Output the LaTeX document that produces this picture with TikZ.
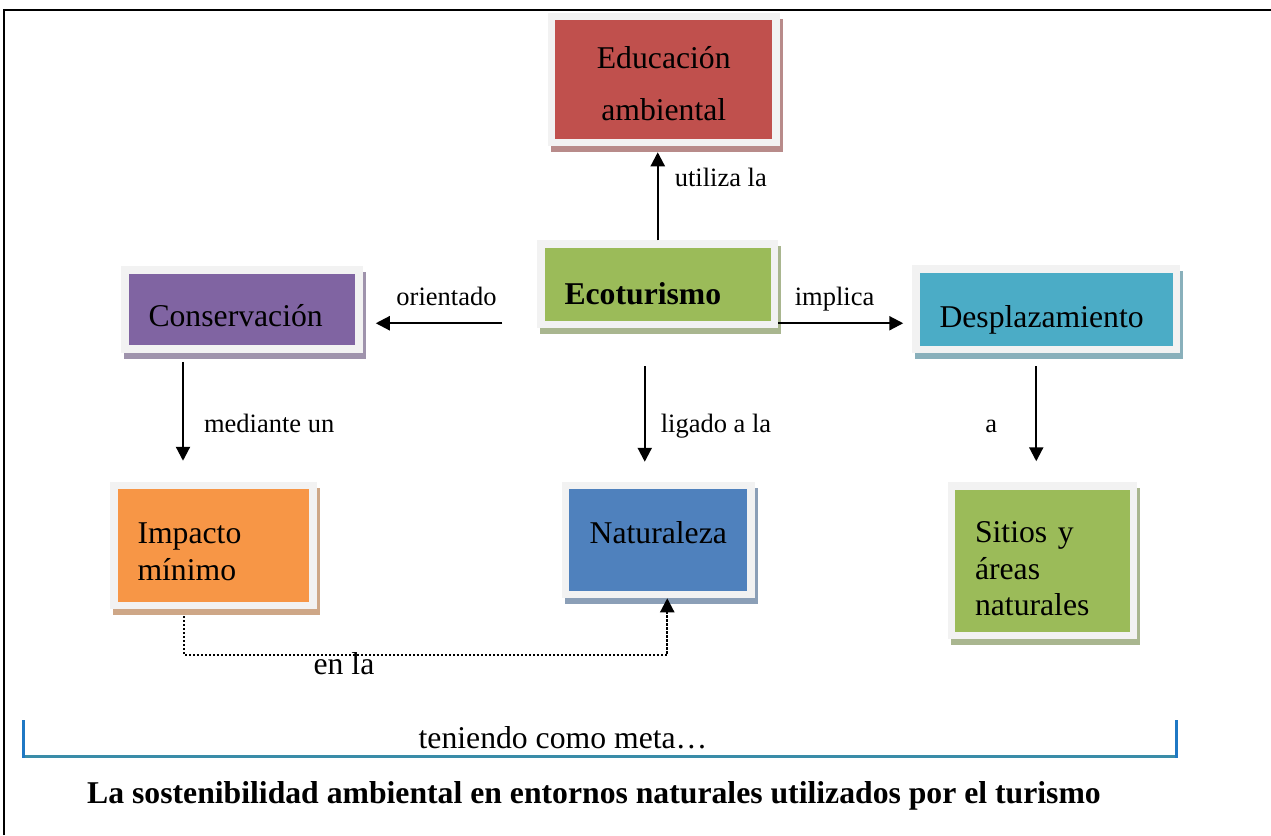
\documentclass[tikz,border=0pt]{standalone}
\usepackage{fontspec}
\setmainfont{Liberation Serif}
\usetikzlibrary{arrows.meta,shadows}

\definecolor{eduRed}{HTML}{C0504D}
\definecolor{ecoGreen}{HTML}{9BBB59}
\definecolor{consPurple}{HTML}{8064A2}
\definecolor{despTeal}{HTML}{4BACC6}
\definecolor{impOrange}{HTML}{F79646}
\definecolor{natBlue}{HTML}{4F81BD}
\definecolor{frameGray}{HTML}{F2F2F2}
\definecolor{shadowGray}{HTML}{B3B3B3}
\definecolor{bracketBlue}{HTML}{1F78C4}
\definecolor{bracketTeal}{HTML}{3A8CA8}

\newcommand{\conceptfont}{\fontsize{31.7}{36.5}\selectfont}
\newcommand{\linkfont}{\fontsize{26.5}{30}\selectfont}

\tikzset{
  concept/.style={rectangle, draw=frameGray, line width=7.5pt, fill=#1, inner sep=0pt,
    font=\conceptfont, align=left,
    drop shadow={shadow xshift=3pt, shadow yshift=-6pt, opacity=1,
      fill=#1!40!shadowGray, draw=#1!40!shadowGray, line width=7.5pt}},
  link/.style={-{Triangle[width=14pt,length=14pt]}, line width=2.2pt},
  dotlink/.style={-{Triangle[width=14pt,length=14pt]}, line width=2.2pt, dash pattern=on 2.2pt off 1.8pt},
  linklabel/.style={font=\linkfont, inner sep=0pt},
}

\begin{document}
\begin{tikzpicture}[yscale=-1, x=1pt, y=1pt]
    \useasboundingbox (0,0) rectangle (1271,835);

    % Page frame
    \draw[line width=2.5pt] (4,835) -- (4,10) -- (1271,10);

    % Define the positions of the boxes
    \coordinate (eduPos) at (663.75,79.5);
    \coordinate (ecoPos) at (657.75,284.25);
    \coordinate (consPos) at (242,309.5);
    \coordinate (despPos) at (1046.25,309.25);
    \coordinate (impPos) at (213.5,545.5);
    \coordinate (natPos) at (658.25,540);
    \coordinate (sitPos) at (1042.5,560.75);

    % Draw the boxes
    \node (edu) [concept=eduRed, minimum width=224.5pt, minimum height=126pt, align=center] at (eduPos) {\rule{0pt}{30pt}Educación\\[15.5pt]ambiental};
    \node (eco) [concept=ecoGreen, minimum width=233.5pt, minimum height=80.5pt, text width=186.5pt,
        text height=39.5pt, text depth=0pt, font=\conceptfont\bfseries] at (ecoPos) {Ecoturismo};
    \node (cons) [concept=consPurple, minimum width=234pt, minimum height=79pt, text width=187pt,
        text height=33pt, text depth=0pt] at (consPos) {Conservación};
    \node (desp) [concept=despTeal, minimum width=260.5pt, minimum height=80.5pt, text width=213.5pt,
        text height=35.5pt, text depth=0pt] at (despPos) {Desplazamiento};
    \node (imp) [concept=impOrange, minimum width=199pt, minimum height=120pt, text width=152pt,
        text height=33.5pt] at (impPos) {Impacto\\mínimo};
    \node (nat) [concept=natBlue, minimum width=185.5pt, minimum height=109pt, align=center,
        text height=22pt, text depth=16pt] at (natPos) {Naturaleza};
    \node (sit) [concept=ecoGreen, minimum width=182pt, minimum height=149.5pt, text width=135pt,
        text height=37.5pt] at (sitPos) {Sitios y\\áreas\\naturales};

    % Free ends of the arrows
    \coordinate (ecoLeft) at ([yshift=-5pt]eco.south west);
    \coordinate (ecoRight) at ([yshift=-5pt]eco.south east);
    \coordinate (ecoBottom) at ([xshift=-13pt]eco.south);
    \coordinate (consBottom) at ([xshift=-59pt]cons.south);
    \coordinate (despBottom) at ([xshift=-10pt]desp.south);
    \coordinate (impBottom) at ([xshift=-29.5pt]imp.south);

    % Draw the arrows
    \draw[link, shorten >=6pt] (eco.north) -- (eco.north |- edu.south)
        node (utiliza) [linklabel, anchor=west, xshift=16pt, pos=0.67] {utiliza la};
    \draw[link, shorten <=35pt, shorten >=13pt] (ecoLeft) -- (ecoLeft -| cons.east)
        node (orientado) [linklabel, anchor=base, yshift=18pt, pos=0.52] {orientado};
    \draw[link, shorten >=9pt] (ecoRight) -- (ecoRight -| desp.west)
        node (implica) [linklabel, anchor=base, yshift=18pt, pos=0.42] {implica};
    \draw[link, shorten <=38pt, shorten >=20pt] (ecoBottom) -- (ecoBottom |- nat.north)
        node (ligado) [linklabel, anchor=west, xshift=15pt, pos=0.637] {ligado a la};
    \draw[link, shorten <=9pt, shorten >=21pt] (consBottom) -- (consBottom |- imp.north)
        node (mediante) [linklabel, anchor=west, xshift=20pt, pos=0.545] {mediante un};
    \draw[link, shorten <=13pt, shorten >=21pt] (despBottom) -- (despBottom |- sit.north)
        node (aLabel) [linklabel, anchor=east, xshift=-38pt, pos=0.564] {a};
    \draw[dotlink, shorten <=7pt] (impBottom) -- ++(0,46) coordinate (enlaCorner) -| ([xshift=9pt]nat.south);
    \node (enla) [font=\conceptfont, inner sep=0pt, anchor=base] at ([xshift=160pt, yshift=19pt]enlaCorner) {en la};

    % Draw the bracket
    \draw[line width=3pt, bracketTeal] (23,756) -- (1176,756);
    \draw[line width=3pt, bracketBlue] (23,720) -- (23,757.5) (1176,720) -- (1176,757.5);

    % Goal
    \node (meta) [font=\conceptfont, inner sep=0pt] at (563,738) {teniendo como meta…};
    \node (goal) [font=\conceptfont\bfseries, inner sep=0pt] at (594,796) {La sostenibilidad ambiental en entornos naturales utilizados por el turismo};
\end{tikzpicture}
\end{document}
